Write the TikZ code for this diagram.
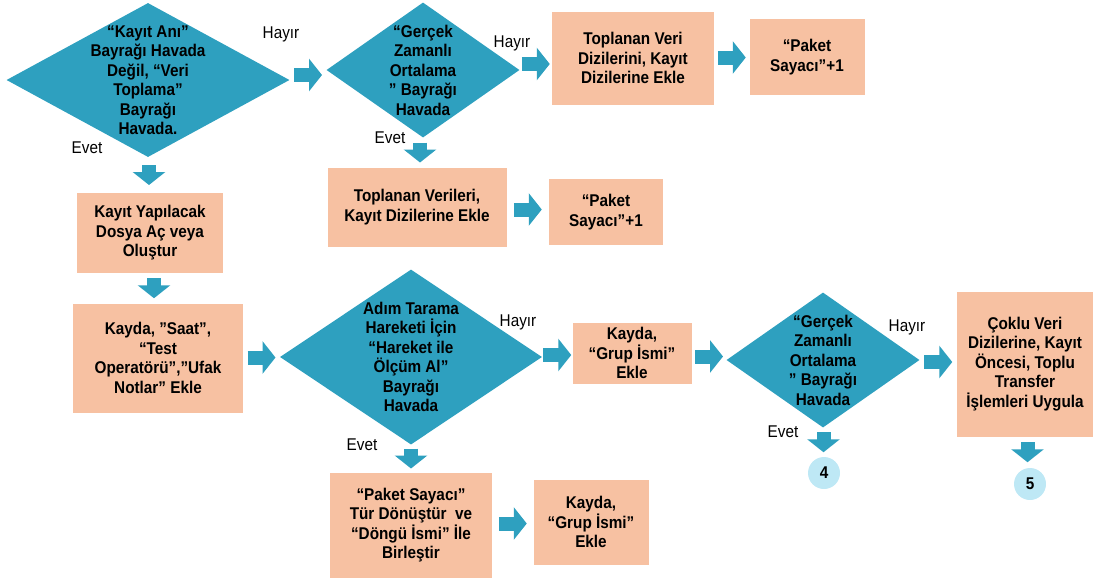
\documentclass[tikz,border=0pt]{standalone}
\usepackage{fontspec}
\setmainfont{Liberation Sans}[FakeStretch=0.9]
\usetikzlibrary{arrows.meta,shapes.geometric,calc}

\definecolor{akisRenk}{RGB}{46,160,191}
\definecolor{kutuRenk}{RGB}{247,193,162}
\definecolor{daireRenk}{RGB}{190,232,245}

\tikzset{
    yazi/.style={font=\fontsize{17}{19.5}\selectfont\bfseries, align=center},
    kutu/.style={yazi, fill=kutuRenk, inner sep=0pt},
    karar/.style={diamond, fill=akisRenk, inner sep=0pt},
    kararyazi/.style={yazi, inner sep=0pt},
    cevap/.style={font=\fontsize{17}{19.5}\selectfont},
    daire/.style={yazi, circle, fill=daireRenk, minimum size=32pt, inner sep=0pt},
    akisok/.style={akisRenk, line width=14pt, -{Triangle[length=13pt,width=32pt]}}
}

\newcommand{\yatayok}[2]{\draw[akisok] ($(#1)!.5!(#2)+(-14,0)$) -- ($(#1)!.5!(#2)+(14,0)$);}
\newcommand{\dikeyok}[2]{\draw[akisok] ($(#1)!.5!(#2)+(0,-10)$) -- ($(#1)!.5!(#2)+(0,10)$);}

\begin{document}
\begin{tikzpicture}[x=1pt,y=-1pt]
    \useasboundingbox (0,0) rectangle (1094,582);

    % ust satir
    \node[karar, minimum width=283pt, minimum height=154pt,
        label={[kararyazi]center:{“Kayıt Anı”\\Bayrağı Havada\\Değil, “Veri\\Toplama”\\Bayrağı\\Havada.}}] (d1) at (148,80) {};
    \node[karar, minimum width=193pt, minimum height=135pt,
        label={[kararyazi]center:{“Gerçek\\Zamanlı\\Ortalama\\” Bayrağı\\Havada}}] (d2) at (423,70) {};
    \node[kutu, minimum width=162pt, minimum height=93pt] (b1) at (633,58) {Toplanan Veri\\Dizilerini, Kayıt\\Dizilerine Ekle};
    \node[kutu, minimum width=115pt, minimum height=76pt] (b2) at (807,57) {“Paket\\Sayacı”+1};

    \node[kutu, minimum width=179pt, minimum height=79pt] (b3) at (417,207) {Toplanan Verileri,\\Kayıt Dizilerine Ekle};
    \node[kutu, minimum width=114pt, minimum height=66pt] (b4) at (606,212) {“Paket\\Sayacı”+1};

    \node[kutu, minimum width=146pt, minimum height=80pt] (b5) at (150,233) {Kayıt Yapılacak\\Dosya Aç veya\\Oluştur};
    \node[kutu, minimum width=170pt, minimum height=109pt] (b6) at (158,358) {Kayda, ”Saat”,\\“Test\\Operatörü”,”Ufak\\Notlar” Ekle};

    % orta satir
    \node[karar, minimum width=262pt, minimum height=175pt,
        label={[kararyazi]center:{Adım Tarama\\Hareketi İçin\\“Hareket ile\\Ölçüm Al”\\Bayrağı\\Havada}}] (d3) at (411,357) {};
    \node[kutu, minimum width=119pt, minimum height=61pt] (b7) at (632,353) {Kayda,\\“Grup İsmi”\\Ekle};
    \node[karar, minimum width=193pt, minimum height=135pt,
        label={[kararyazi]center:{“Gerçek\\Zamanlı\\Ortalama\\” Bayrağı\\Havada}}] (d4) at (823,360) {};
    \node[kutu, minimum width=136pt, minimum height=145pt] (b8) at (1025,364) {Çoklu Veri\\Dizilerine, Kayıt\\Öncesi, Toplu\\Transfer\\İşlemleri Uygula};
    \node[daire] (c4) at (824,473) {4};
    \node[daire] (c5) at (1030,484) {5};

    % alt satir
    \node[kutu, minimum width=162pt, minimum height=105pt] (b9) at (411,525) {“Paket Sayacı”\\Tür Dönüştür\ \ ve\\“Döngü İsmi” İle\\Birleştir};
    \node[kutu, minimum width=115pt, minimum height=85pt] (b10) at (591,522) {Kayda,\\“Grup İsmi”\\Ekle};

    % cevaplar
    \node[cevap] (h1) at (281,34) {Hayır};
    \node[cevap] (e1) at (87,148) {Evet};
    \node[cevap] (h2) at (512,43) {Hayır};
    \node[cevap] (e2) at (390,138) {Evet};
    \node[cevap] (h3) at (518,322) {Hayır};
    \node[cevap] (e3) at (362,445) {Evet};
    \node[cevap] (h4) at (907,327) {Hayır};
    \node[cevap] (e4) at (783,432) {Evet};

    % oklar
    \yatayok{d1.east}{d2.west}
    \yatayok{d2.east}{b1.west}
    \yatayok{b1.east}{b2.west}
    \yatayok{b3.east}{b4.west}
    \yatayok{b6.east}{d3.west}
    \yatayok{d3.east}{b7.west}
    \yatayok{b7.east}{d4.west}
    \yatayok{d4.east}{b8.west}
    \yatayok{b9.east}{b10.west}
    \dikeyok{d1.south}{b5.north}
    \dikeyok{d2.south}{b3.north}
    \dikeyok{b5.south}{b6.north}
    \dikeyok{d3.south}{b9.north}
    \dikeyok{d4.south}{c4.north}
    \dikeyok{b8.south}{c5.north}
\end{tikzpicture}
\end{document}
